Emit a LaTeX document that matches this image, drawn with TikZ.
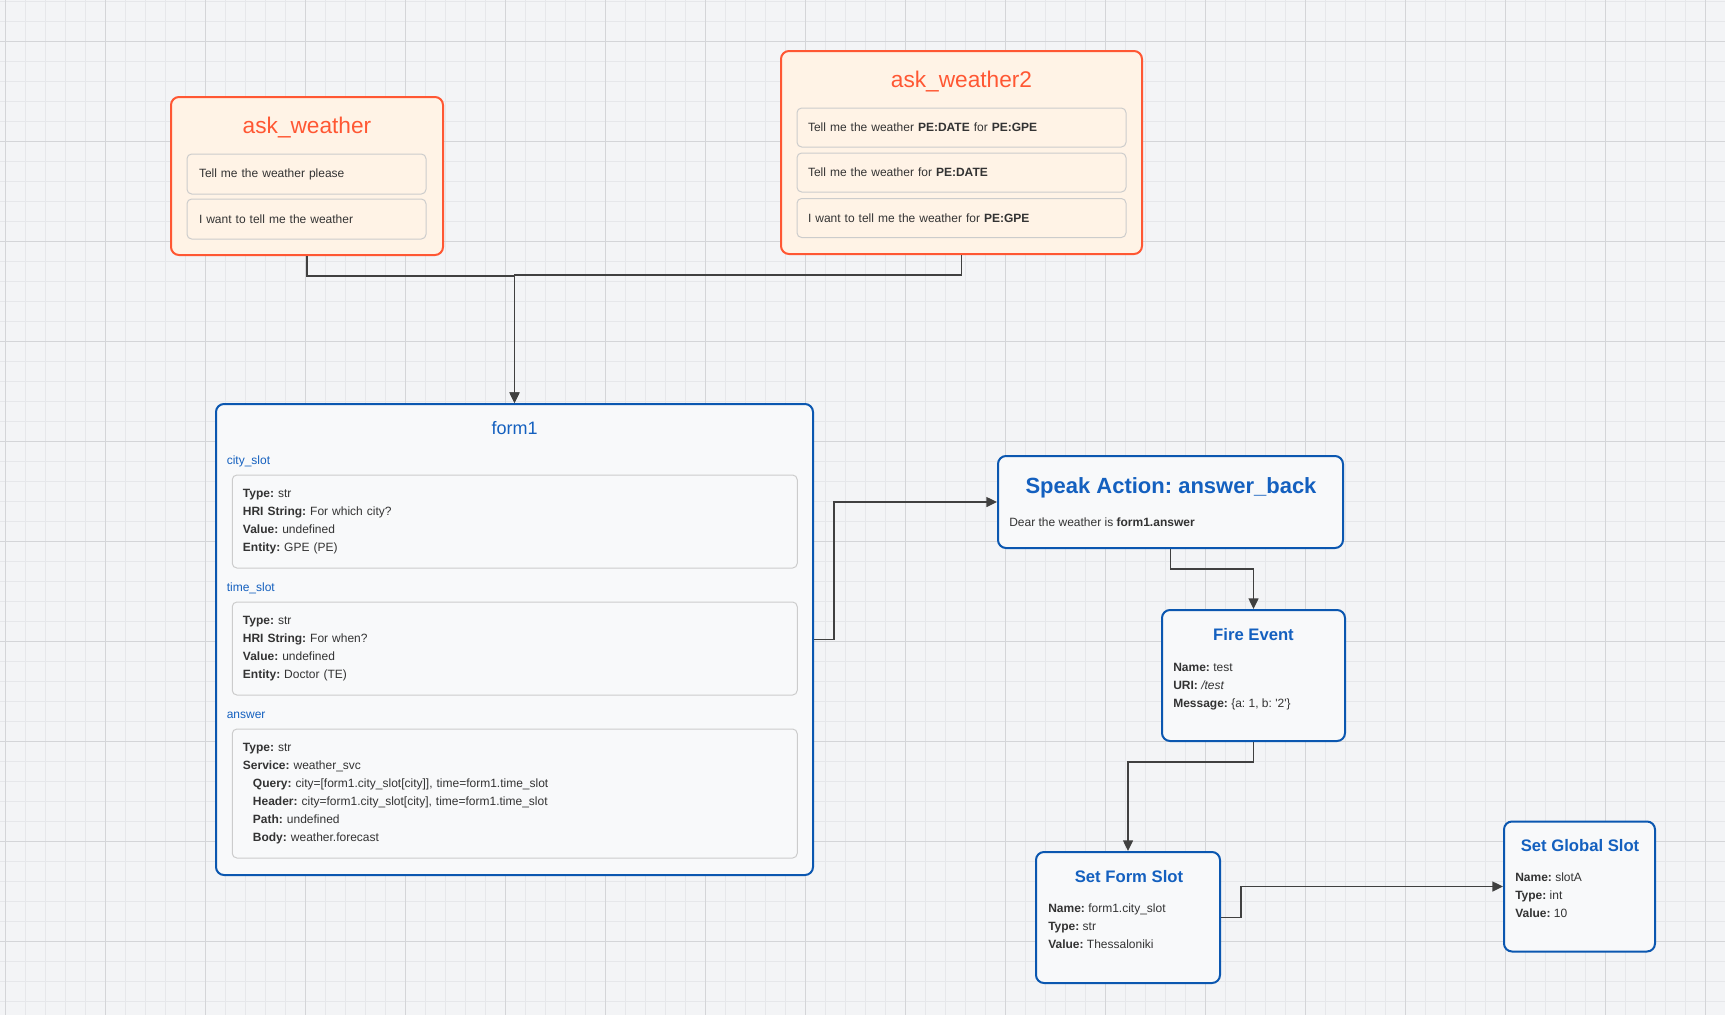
\documentclass[tikz,border=0pt]{standalone}
\usepackage{fontspec}
\setmainfont{Liberation Sans}
\usetikzlibrary{positioning,arrows.meta}
\frenchspacing

\definecolor{canvas}{HTML}{F3F4F6}
\definecolor{gridminor}{HTML}{E6E7EA}
\definecolor{gridmajor}{HTML}{D4D5D8}
\definecolor{intentline}{HTML}{FF5733}
\definecolor{intentfill}{HTML}{FFF3E6}
\definecolor{actline}{HTML}{0B57B0}
\definecolor{acttitle}{HTML}{1460BF}
\definecolor{actfill}{HTML}{F8F9FA}
\definecolor{itemline}{HTML}{CCCCCC}
\definecolor{bodytext}{HTML}{333333}

\begin{document}
\begin{tikzpicture}[x=0.75pt, y=-0.75pt,
  intent/.style={draw=intentline, fill=intentfill, line width=1.5pt, rounded corners=6pt, inner sep=0pt},
  block/.style={draw=actline, fill=actfill, line width=1.5pt, rounded corners=6pt, inner sep=0pt},
  item/.style={draw=itemline, line width=0.75pt, rounded corners=3.5pt, align=left, inner ysep=0pt,
    text=bodytext, font=\fontsize{9}{13.5}\selectfont},
  ititle/.style={text=intentline, inner sep=0pt, font=\fontsize{17}{20}\selectfont},
  btitle/.style={text=acttitle, inner sep=0pt, font=\fontsize{12.5}{15}\selectfont\bfseries},
  slot/.style={text=acttitle, anchor=west, inner sep=0pt, font=\fontsize{9}{11}\selectfont},
  body/.style={text=bodytext, align=left, inner sep=0pt, anchor=north west, font=\fontsize{9}{13.5}\selectfont},
  conn/.style={draw=black!75, line width=1pt, -{Triangle[length=8pt, width=7.5pt]}}]
  \useasboundingbox (0,0) rectangle (1725,1015);
  % canvas grid
  \fill[canvas] (0,0) rectangle (1725,1015);
  \foreach \gx in {5.7,25.7,...,1725}
    \draw[gridminor, line width=0.75pt] (\gx,0) -- (\gx,1015);
  \foreach \gy in {1,21,...,1015}
    \draw[gridminor, line width=0.75pt] (0,\gy) -- (1725,\gy);
  \foreach \gx in {5.7,105.7,...,1725}
    \draw[gridmajor, line width=0.75pt] (\gx,0) -- (\gx,1015);
  \foreach \gy in {41,141,...,1015}
    \draw[gridmajor, line width=0.75pt] (0,\gy) -- (1725,\gy);
  % intents
  \node[intent, minimum width=204pt, minimum height=118.5pt] (aw) at (307,176) {};
  \node[ititle] (awtitle) at (307,128) {ask\_weather};
  \node[item, text width=161.25pt, inner xsep=9pt, minimum height=30pt] (aw1) at (306.5,174) {Tell me the weather please};
  \node[item, text width=161.25pt, inner xsep=9pt, minimum height=30pt] (aw2) at (306.5,219) {I want to tell me the weather};
  \node[intent, minimum width=270.75pt, minimum height=152.25pt] (awb) at (961.5,152.5) {};
  \node[ititle] (awbtitle) at (961.5,82) {ask\_weather2};
  \node[item, text width=230.25pt, inner xsep=8.25pt, minimum height=29.25pt] (awb1) at (961.5,127.5) {Tell me the weather \textbf{PE:DATE} for \textbf{PE:GPE}};
  \node[item, text width=230.25pt, inner xsep=8.25pt, minimum height=29.25pt] (awb2) at (961.5,172.5) {Tell me the weather for \textbf{PE:DATE}};
  \node[item, text width=230.25pt, inner xsep=8.25pt, minimum height=29.25pt] (awb3) at (961.5,218) {I want to tell me the weather for \textbf{PE:GPE}};
  % form
  \node[block, minimum width=447.75pt, minimum height=353.25pt] (form1) at (514.5,639.5) {};
  \node[text=acttitle, inner sep=0pt, font=\fontsize{13.5}{16}\selectfont] (formtitle) at (514.5,428) {form1};
  \node[slot] (lcity) at (226.5,461) {city\_slot};
  \node[item, text width=407.75pt, inner xsep=8pt, minimum height=69.75pt] (citybox) at (514.75,521.5)
    {\textbf{Type:} str\\ \textbf{HRI String:} For which city?\\ \textbf{Value:} undefined\\ \textbf{Entity:} GPE (PE)};
  \node[slot] (ltime) at (226.5,588) {time\_slot};
  \node[item, text width=407.75pt, inner xsep=8pt, minimum height=69.75pt] (timebox) at (514.75,648.5)
    {\textbf{Type:} str\\ \textbf{HRI String:} For when?\\ \textbf{Value:} undefined\\ \textbf{Entity:} Doctor (TE)};
  \node[slot] (lanswer) at (226.5,715) {answer};
  \node[item, text width=407.75pt, inner xsep=8pt, minimum height=96.75pt] (answerbox) at (514.75,793.5)
    {\textbf{Type:} str\\ \textbf{Service:} weather\_svc\\
     \hspace*{7.5pt}\textbf{Query:} city=[form1.city\_slot[city]], time=form1.time\_slot\\
     \hspace*{7.5pt}\textbf{Header:} city=form1.city\_slot[city], time=form1.time\_slot\\
     \hspace*{7.5pt}\textbf{Path:} undefined\\
     \hspace*{7.5pt}\textbf{Body:} weather.forecast};
  % actions
  \node[block, minimum width=258.75pt, minimum height=69pt] (speak) at (1170.5,502) {};
  \node[btitle, font=\fontsize{16.5}{19}\selectfont\bfseries] (speaktitle) at (1171,488) {Speak Action: answer\_back};
  \node[body, anchor=west] (speaktext) at (1009,522) {Dear the weather is \textbf{form1.answer}};
  \node[block, minimum width=137.25pt, minimum height=98.25pt] (fire) at (1253.5,675.5) {};
  \node[btitle] (firetitle) at (1253.5,635) {Fire Event};
  \node[body] (firetext) at (1173,663)
    {\textbf{Name:} test\\ \textbf{URI:} \textit{/test}\\ \textbf{Message:} \{a: 1, b: \textquotesingle 2\textquotesingle\}};
  \node[block, minimum width=138pt, minimum height=98.25pt] (setform) at (1128,917.5) {};
  \node[btitle] (setformtitle) at (1129,877) {Set Form Slot};
  \node[body] (setformtext) at (1048,904)
    {\textbf{Name:} form1.city\_slot\\ \textbf{Type:} str\\ \textbf{Value:} Thessaloniki};
  \node[block, minimum width=113.25pt, minimum height=97.5pt] (global) at (1579.5,886.5) {};
  \node[btitle] (globaltitle) at (1580,846) {Set Global Slot};
  \node[body] (globaltext) at (1515,873)
    {\textbf{Name:} slotA\\ \textbf{Type:} int\\ \textbf{Value:} 10};
  % connectors
  \draw[conn] (aw.south) -- ++(0,20) -| (form1.north);
  \draw[conn] (awb.south) -- ++(0,20) -| (form1.north);
  \draw[conn] (form1.east) -- ++(20,0) |- (speak.west);
  \draw[conn] (speak.south) -- ++(0,20) -| (fire.north);
  \draw[conn] (fire.south) -- ++(0,20) -| (setform.north);
  \draw[conn] (setform.east) -- ++(20,0) |- (global.west);
\end{tikzpicture}
\end{document}
